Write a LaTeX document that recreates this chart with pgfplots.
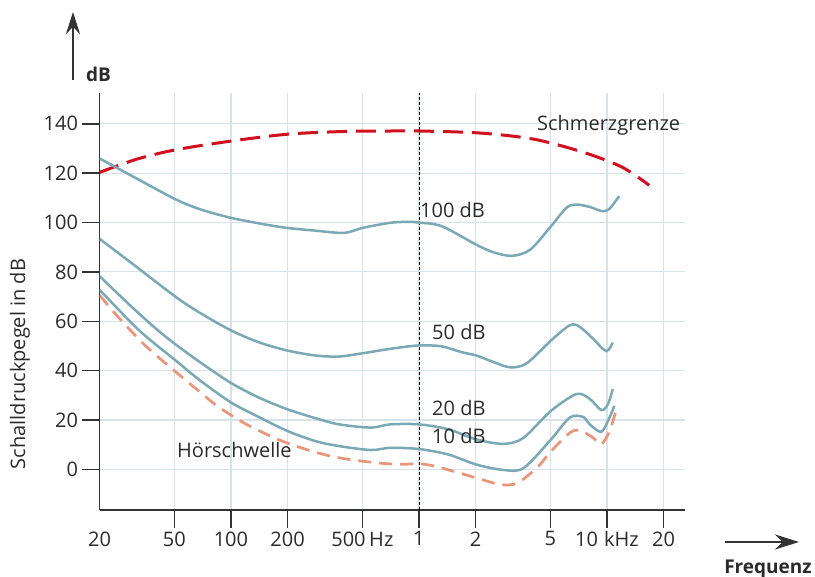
\documentclass[border=0pt]{standalone}
\usepackage{pgfplots}
\pgfplotsset{compat=1.18}
\usetikzlibrary{arrows.meta}
\usepackage{fontspec}
\setmainfont{Open Sans}
\definecolor{curvecol}{HTML}{7BA8B5}
\definecolor{painred}{HTML}{D0101E}
\definecolor{salmon}{HTML}{E8957A}
\definecolor{gridcol}{HTML}{D6E3E9}
\definecolor{axiscol}{HTML}{333333}
\definecolor{txtcol}{HTML}{2A2A2A}
\begin{document}
\begin{tikzpicture}[x=1pt,y=1pt]
\useasboundingbox (0,0) rectangle (815,577);
\begin{axis}[
  at={(99.5pt,67pt)}, anchor=south west,
  scale only axis, width=585.5pt, height=417pt,
  xmode=log, xmin=20, xmax=26000, ymin=-16.5, ymax=152.5,
  axis x line=bottom, axis y line=left,
  axis line style={-, draw=axiscol, line width=1.5pt},
  x axis line style={-}, y axis line style={-},
  xtick={50,100,200,500,1000,2000,5000,10000,20000},
  xticklabels={50,100,200,{500\hspace{0.18em}Hz},1,2,5,{10\hspace{0.3em}kHz},20},
  extra x ticks={20}, extra x tick labels={20},
  extra x tick style={major tick length=0pt, grid=none, xticklabel style={yshift=-18pt}},
  xminorticks=false,
  ytick={0,20,...,140},
  yticklabels={0,20,40,60,80,100,120,140},
  tick align=outside, major tick length=18pt,
  tick style={draw=axiscol, line width=1.4pt},
  grid=major, major grid style={draw=gridcol, line width=1.2pt},
  tick label style={font=\fontsize{20}{24}\selectfont, text=txtcol},
]
\addplot[black, line width=0.9pt, dash pattern=on 3pt off 2pt, forget plot] coordinates {(1000,-16.5) (1000,152.5)};
% Schmerzgrenze
\addplot[painred, line width=3pt, dash pattern=on 20pt off 9pt, smooth] table {
20 120.3
31.6 125.7
51 129.5
100 133
200 135.8
400 136.9
730 137.1
1000 137.1
2086 136.3
4068 133.8
7470 128.5
12070 122.4
16770 115.1
};
% 100 dB
\addplot[curvecol, line width=2.5pt, smooth] table {
20 126
29.7 118.9
50.8 109.4
69.1 105.3
100 101.9
152.5 99.2
200 97.8
282 96.7
400 95.8
500 97.8
703 99.9
904 100.3
1000 100
1324 98.5
2020 91
2503 87.9
3127 86.5
3909 89
5040 98.5
6095 106
6885 107.3
8103 106.3
9445 104.6
10322 105.6
11610 110.7
};
% 50 dB
\addplot[curvecol, line width=2.5pt, smooth] table {
20 93.4
29.7 83.5
50.8 69.9
69.1 63.2
100 56.3
140.5 51.5
200 48.1
282 46.1
376 45.7
500 47.0
703 48.8
1000 50.2
1324 49.8
1678 47.5
2020 46.1
2503 43.4
3066 41.3
3750 43
5040 52.2
6354 58.4
7175 57.7
8433 52.9
9900 47.9
10730 51.3
};
% 20 dB
\addplot[curvecol, line width=2.5pt, smooth] table {
20 78.3
29.7 65.8
40.9 56.3
50.8 50.6
69.1 43.2
100 35.0
140.5 29.1
200 24.3
282 20.7
376 18.2
556 16.9
703 18.2
1000 18.2
1432 16.2
2020 12.1
2827 10.3
3603 12.8
5040 23.7
6885 30.5
8103 28.5
9330 24
10118 26.4
10730 32.5
};
% 10 dB
\addplot[curvecol, line width=2.5pt, smooth] table {
20 72.8
32.5 56.3
50.8 44.1
69.1 35.8
100 27.1
140.5 21.2
200 15.5
282 11.4
376 9.4
556 7.8
703 8.7
1000 8.2
1432 6.0
2020 1.9
2827 -0.3
3603 0.5
5040 12.1
6354 21
7470 21.2
8103 18.2
9330 15.2
10322 21
10946 25.7
};
% Hoerschwelle
\addplot[salmon, line width=2.7pt, dash pattern=on 13pt off 8pt, smooth] table {
20 70.6
24.8 62.2
32.5 52.6
38.9 47.0
50.8 39.5
66.5 32.1
83.8 25.8
100 22
119.6 18.4
152.5 14.4
195 10.9
270 7.3
346 5.2
443 3.8
619 2.5
797 2.0
1000 2.2
1223 1.2
2020 -3.5
2716 -6.2
3321 -5.6
4233 0.5
5040 7.3
6354 14.8
7175 15.8
8433 12.8
9330 10.1
10322 15.5
11155 23.7
};
\end{axis}
\begin{scope}[every node/.style={inner sep=0pt, text=txtcol, font=\fontsize{20}{24}\selectfont}]
\node[anchor=base west] at (537,446) {Schmerzgrenze};
\node[anchor=base west] at (420,359.5) {100 dB};
\node[anchor=base west] at (432,237) {50 dB};
\node[anchor=base west] at (432,161) {20 dB};
\node[anchor=base west] at (432,133.7) {10 dB};
\node[anchor=base west] at (177,119) {Hörschwelle};
\node[rotate=90] at (20,213) {Schalldruckpegel in dB};
\node[font=\fontsize{19}{22}\selectfont\bfseries] at (98.5,502.5) {dB};
\node[font=\fontsize{19}{22}\selectfont\bfseries, anchor=base] at (768,3) {Frequenz};
\end{scope}
\draw[axiscol, line width=2.8pt, -{Stealth[length=22pt,width=14pt]}] (73,497) -- (73,565);
\draw[axiscol, line width=2.8pt, -{Stealth[length=24pt,width=15pt]}] (725,35) -- (799,35);
\end{tikzpicture}
\end{document}
